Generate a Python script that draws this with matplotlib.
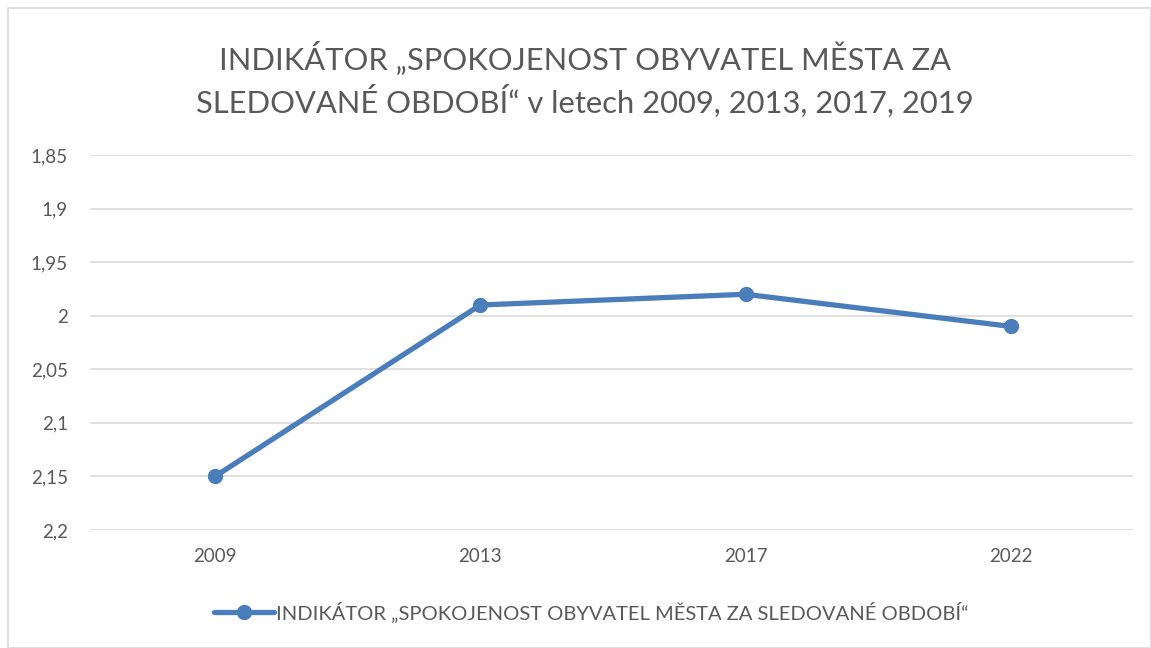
import matplotlib.pyplot as plt
from matplotlib.patches import Rectangle
from matplotlib.ticker import FixedLocator, FuncFormatter

years = ["2009", "2013", "2017", "2022"]
values = [2.15, 1.99, 1.98, 2.01]
y_ticks = [1.85, 1.9, 1.95, 2.0, 2.05, 2.1, 2.15, 2.2]

title = "INDIKÁTOR „SPOKOJENOST OBYVATEL MĚSTA ZA\nSLEDOVANÉ OBDOBÍ“ v letech 2009, 2013, 2017, 2019"
series_label = "INDIKÁTOR „SPOKOJENOST OBYVATEL MĚSTA ZA SLEDOVANÉ OBDOBÍ“"

plt.rcParams['font.family'] = ['Lato', 'DejaVu Sans']
text_color = "#595959"
line_color = "#4A7EBB"

fig = plt.figure(figsize=(11.51, 6.48), dpi=100)
# chart border
fig.patches.append(Rectangle((8 / 1151, 0.0), 1 - 8 / 1151, 1 - 8 / 648, transform=fig.transFigure,
                             fill=False, edgecolor="#D9D9D9", linewidth=1.2))

ax = fig.add_axes([90 / 1151, 1 - 530 / 648, (1133 - 90) / 1151, (530 - 155) / 648])
x = list(range(len(years)))
ax.plot(x, values, color=line_color, linewidth=3.8, marker="o", markersize=10,
        solid_capstyle="round", label=series_label)

ax.set_xlim(-0.471, 3.46)
ax.set_ylim(2.2, 1.85)
ax.yaxis.set_major_locator(FixedLocator(y_ticks))
ax.yaxis.set_major_formatter(FuncFormatter(lambda v, p: f"{v:g}".replace(".", ",")))
ax.set_xticks(x)
ax.set_xticklabels(years)
ax.grid(axis="y", color="#D9D9D9", linewidth=1.2)
ax.set_axisbelow(True)
for s in ax.spines.values():
    s.set_visible(False)
ax.tick_params(axis="both", length=0, labelsize=13.5, colors=text_color)
ax.tick_params(axis="y", pad=16)
ax.tick_params(axis="x", pad=13)

fig.text(0.508, 1 - 79 / 648, title, ha="center", va="center", fontsize=22.2,
         color=text_color, linespacing=1.4)

fig.legend(loc="center", bbox_to_anchor=(591 / 1151, 1 - 612 / 648), frameon=False,
           fontsize=14.5, labelcolor=text_color, handlelength=3.0, handletextpad=0.1)

fig.savefig("out.png", dpi=100)
